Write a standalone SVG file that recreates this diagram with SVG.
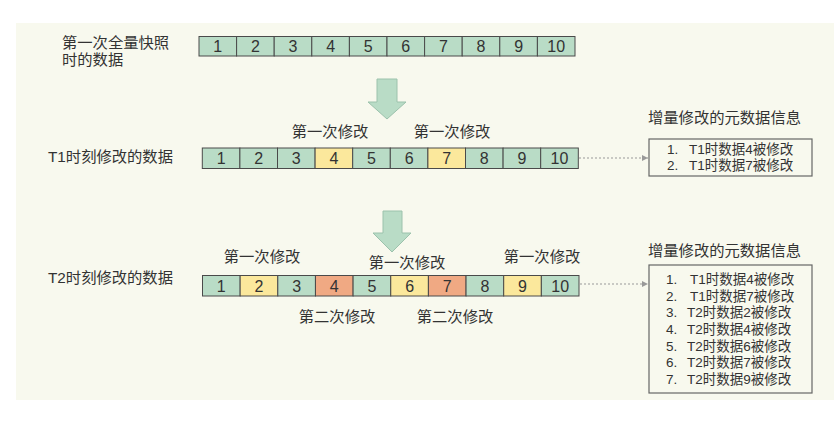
<svg xmlns="http://www.w3.org/2000/svg" width="834" height="424" viewBox="0 0 834 424">
<defs>
<style>
text{font-family:"Liberation Sans","Noto Sans CJK SC",sans-serif;fill:#333;}
.lbl{font-size:15.3px;}
.num{font-size:16px;text-anchor:middle;}
.mid{text-anchor:middle;}
.it{font-size:13.5px;}
.g{fill:#b9dcc6;stroke:#4a4a4a;stroke-width:1;}
.y{fill:#fbe89c;stroke:#4a4a4a;stroke-width:1;}
.o{fill:#f0a983;stroke:#4a4a4a;stroke-width:1;}
.box{fill:none;stroke:#666;stroke-width:1.2;}
.big{fill:#b9dcc6;stroke:#9cc2ac;stroke-width:1;}
.conn{stroke:#999;stroke-width:1;stroke-dasharray:2 2;fill:none;}
</style>
<marker id="ah" markerWidth="8" markerHeight="8" refX="6" refY="3" orient="auto" markerUnits="userSpaceOnUse">
<path d="M0,0 L6,3 L0,6 Z" fill="#999"/>
</marker>
</defs>
<rect x="16" y="23" width="818" height="377" fill="#f8f9ee"/>

<g id="row0">
<text class="lbl" x="62" y="48">第一次全量快照</text>
<text class="lbl" x="62" y="65">时的数据</text>
<g transform="translate(199,36.5)">
<rect class="g" x="0" y="0" width="37.6" height="19.5"/><text class="num" x="18.8" y="15.5">1</text>
<rect class="g" x="37.6" y="0" width="37.6" height="19.5"/><text class="num" x="56.4" y="15.5">2</text>
<rect class="g" x="75.2" y="0" width="37.6" height="19.5"/><text class="num" x="94" y="15.5">3</text>
<rect class="g" x="112.8" y="0" width="37.6" height="19.5"/><text class="num" x="131.6" y="15.5">4</text>
<rect class="g" x="150.4" y="0" width="37.6" height="19.5"/><text class="num" x="169.2" y="15.5">5</text>
<rect class="g" x="188" y="0" width="37.6" height="19.5"/><text class="num" x="206.8" y="15.5">6</text>
<rect class="g" x="225.6" y="0" width="37.6" height="19.5"/><text class="num" x="244.4" y="15.5">7</text>
<rect class="g" x="263.2" y="0" width="37.6" height="19.5"/><text class="num" x="282" y="15.5">8</text>
<rect class="g" x="300.8" y="0" width="37.6" height="19.5"/><text class="num" x="319.6" y="15.5">9</text>
<rect class="g" x="338.4" y="0" width="37.6" height="19.5"/><text class="num" x="357.2" y="15.5">10</text>
</g>
</g>

<g id="arrow1">
<path class="big" d="M377,79 L397,79 L397,102 L406,102 L387,119 L368,102 L377,102 Z"/>
</g>

<g id="row1">
<text class="lbl" x="48" y="162">T1时刻修改的数据</text>
<text class="lbl mid" x="330" y="137">第一次修改</text>
<text class="lbl mid" x="452" y="137">第一次修改</text>
<g transform="translate(202.3,148)">
<rect class="g" x="0" y="0" width="37.6" height="20.5"/><text class="num" x="18.8" y="16">1</text>
<rect class="g" x="37.6" y="0" width="37.6" height="20.5"/><text class="num" x="56.4" y="16">2</text>
<rect class="g" x="75.2" y="0" width="37.6" height="20.5"/><text class="num" x="94" y="16">3</text>
<rect class="y" x="112.8" y="0" width="37.6" height="20.5"/><text class="num" x="131.6" y="16">4</text>
<rect class="g" x="150.4" y="0" width="37.6" height="20.5"/><text class="num" x="169.2" y="16">5</text>
<rect class="g" x="188" y="0" width="37.6" height="20.5"/><text class="num" x="206.8" y="16">6</text>
<rect class="y" x="225.6" y="0" width="37.6" height="20.5"/><text class="num" x="244.4" y="16">7</text>
<rect class="g" x="263.2" y="0" width="37.6" height="20.5"/><text class="num" x="282" y="16">8</text>
<rect class="g" x="300.8" y="0" width="37.6" height="20.5"/><text class="num" x="319.6" y="16">9</text>
<rect class="g" x="338.4" y="0" width="37.6" height="20.5"/><text class="num" x="357.2" y="16">10</text>
</g>
</g>

<g id="arrow2">
<path class="big" d="M383,211 L402,211 L402,233 L411,233 L392,252 L373,233 L383,233 Z"/>
</g>

<g id="row2">
<text class="lbl" x="48" y="283">T2时刻修改的数据</text>
<text class="lbl mid" x="262" y="262">第一次修改</text>
<text class="lbl mid" x="407" y="268">第一次修改</text>
<text class="lbl mid" x="542" y="262">第一次修改</text>
<text class="lbl mid" x="337" y="322">第二次修改</text>
<text class="lbl mid" x="455" y="322">第二次修改</text>
<g transform="translate(202.5,275.5)">
<rect class="g" x="0" y="0" width="37.65" height="20.5"/><text class="num" x="18.8" y="16">1</text>
<rect class="y" x="37.65" y="0" width="37.65" height="20.5"/><text class="num" x="56.5" y="16">2</text>
<rect class="g" x="75.3" y="0" width="37.65" height="20.5"/><text class="num" x="94.1" y="16">3</text>
<rect class="o" x="112.95" y="0" width="37.65" height="20.5"/><text class="num" x="131.8" y="16">4</text>
<rect class="g" x="150.6" y="0" width="37.65" height="20.5"/><text class="num" x="169.4" y="16">5</text>
<rect class="y" x="188.25" y="0" width="37.65" height="20.5"/><text class="num" x="207.1" y="16">6</text>
<rect class="o" x="225.9" y="0" width="37.65" height="20.5"/><text class="num" x="244.7" y="16">7</text>
<rect class="g" x="263.55" y="0" width="37.65" height="20.5"/><text class="num" x="282.4" y="16">8</text>
<rect class="y" x="301.2" y="0" width="37.65" height="20.5"/><text class="num" x="320" y="16">9</text>
<rect class="g" x="338.85" y="0" width="37.65" height="20.5"/><text class="num" x="357.7" y="16">10</text>
</g>
</g>

<g id="meta1">
<text class="lbl" x="648" y="123">增量修改的元数据信息</text>
<rect class="box" x="649" y="139" width="163" height="37"/>
<text class="it" x="667" y="154">1.</text><text class="it" x="689" y="154">T1时数据4被修改</text>
<text class="it" x="667" y="170">2.</text><text class="it" x="689" y="170">T1时数据7被修改</text>
</g>

<g id="meta2">
<text class="lbl" x="648" y="256">增量修改的元数据信息</text>
<rect class="box" x="649" y="265" width="163" height="128"/>
<text class="it" x="666" y="284">1.</text><text class="it" x="690" y="284">T1时数据4被修改</text>
<text class="it" x="666" y="300.7">2.</text><text class="it" x="690" y="300.7">T1时数据7被修改</text>
<text class="it" x="666" y="317.3">3.</text><text class="it" x="687" y="317.3">T2时数据2被修改</text>
<text class="it" x="666" y="334">4.</text><text class="it" x="687" y="334">T2时数据4被修改</text>
<text class="it" x="666" y="350.7">5.</text><text class="it" x="687" y="350.7">T2时数据6被修改</text>
<text class="it" x="666" y="367.3">6.</text><text class="it" x="687" y="367.3">T2时数据7被修改</text>
<text class="it" x="666" y="384">7.</text><text class="it" x="687" y="384">T2时数据9被修改</text>
</g>

<g id="connectors">
<line class="conn" x1="579" y1="158" x2="648" y2="158" marker-end="url(#ah)"/>
<line class="conn" x1="580" y1="284" x2="648" y2="284" marker-end="url(#ah)"/>
</g>
</svg>
